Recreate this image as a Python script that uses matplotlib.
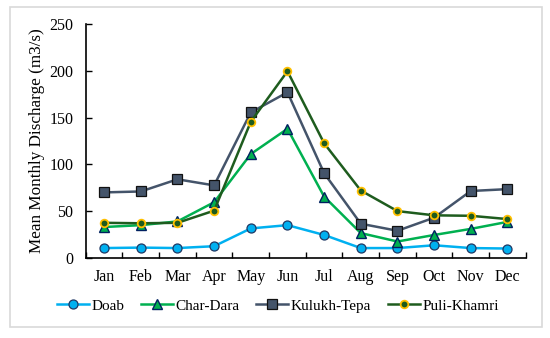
import matplotlib.pyplot as plt
from matplotlib.patches import Rectangle

# ----------------------------
# Data
# ----------------------------
months = ['Jan', 'Feb', 'Mar', 'Apr', 'May', 'Jun',
          'Jul', 'Aug', 'Sep', 'Oct', 'Nov', 'Dec']

doab = [10.5, 11, 10.5, 12.5, 31.5, 35, 24.5, 10.5, 10.5, 13.5, 10.5, 10]
char_dara = [33, 35, 39, 59.5, 111, 138, 65.5, 26.5, 17.5, 24.5, 31, 38.5]
kulukh_tepa = [70, 71, 84, 77.5, 155.5, 177, 90.5, 36.5, 29, 43, 71.5, 73.5]
puli_khamri = [37.5, 37, 37.5, 50.5, 145.5, 199.5, 122.5, 72, 50, 45.5, 45, 41.5]

plt.rcParams['font.family'] = ['Liberation Serif', 'DejaVu Serif']

fig = plt.figure(figsize=(5.5, 3.38), dpi=100)
ax = fig.add_axes([0.156, 0.237, 0.8, 0.692])

x = list(range(len(months)))

ax.plot(x, doab, color='#00B0F0', lw=1.8, marker='o', ms=6.5,
        mfc='#00B0F0', mec='#1F3864', mew=0.9, label='Doab')
ax.plot(x, char_dara, color='#00B050', lw=1.8, marker='^', ms=6.5,
        mfc='#00B050', mec='#002060', mew=1.0, label='Char-Dara')
ax.plot(x, kulukh_tepa, color='#44546A', lw=1.8, marker='s', ms=6.5,
        mfc='#44546A', mec='#111111', mew=0.9, label='Kulukh-Tepa')
ax.plot(x, puli_khamri, color='#1E5C1E', lw=1.8, marker='o', ms=5.5,
        mfc='#1E5C1E', mec='#FFC000', mew=1.3, label='Puli-Khamri')

ax.set_xlim(-0.5, 11.5)
ax.set_ylim(0, 250)
ax.set_yticks(range(0, 251, 50))
ax.set_xticks(x)
ax.set_xticklabels(months)
ax.set_xticks([i + 0.5 for i in range(-1, 12)], minor=True)
ax.tick_params(axis='x', which='major', length=0, labelsize=11.5, pad=8)
ax.tick_params(axis='x', which='minor', direction='in', length=4, width=1)
ax.tick_params(axis='y', direction='in', length=4, width=1, labelsize=11.5, pad=9)

ax.spines['top'].set_visible(False)
ax.spines['right'].set_visible(False)
ax.spines['left'].set_linewidth(1.2)
ax.spines['bottom'].set_linewidth(1.2)

ax.set_ylabel('Mean Monthly Discharge (m3/s)', fontsize=12.3, labelpad=3)

fig.legend(*ax.get_legend_handles_labels(), loc='center',
           bbox_to_anchor=(0.505, 0.095), ncol=4, frameon=False,
           fontsize=11, handlelength=2.1, columnspacing=1.1, handletextpad=0.15)

# light grey frame around the whole chart
fig.patches.append(Rectangle((10 / 550, 11 / 338), 532 / 550, 320 / 338,
                             transform=fig.transFigure, fill=False,
                             edgecolor='#D9D9D9', lw=1.2))

fig.savefig('out.png', dpi=100)
